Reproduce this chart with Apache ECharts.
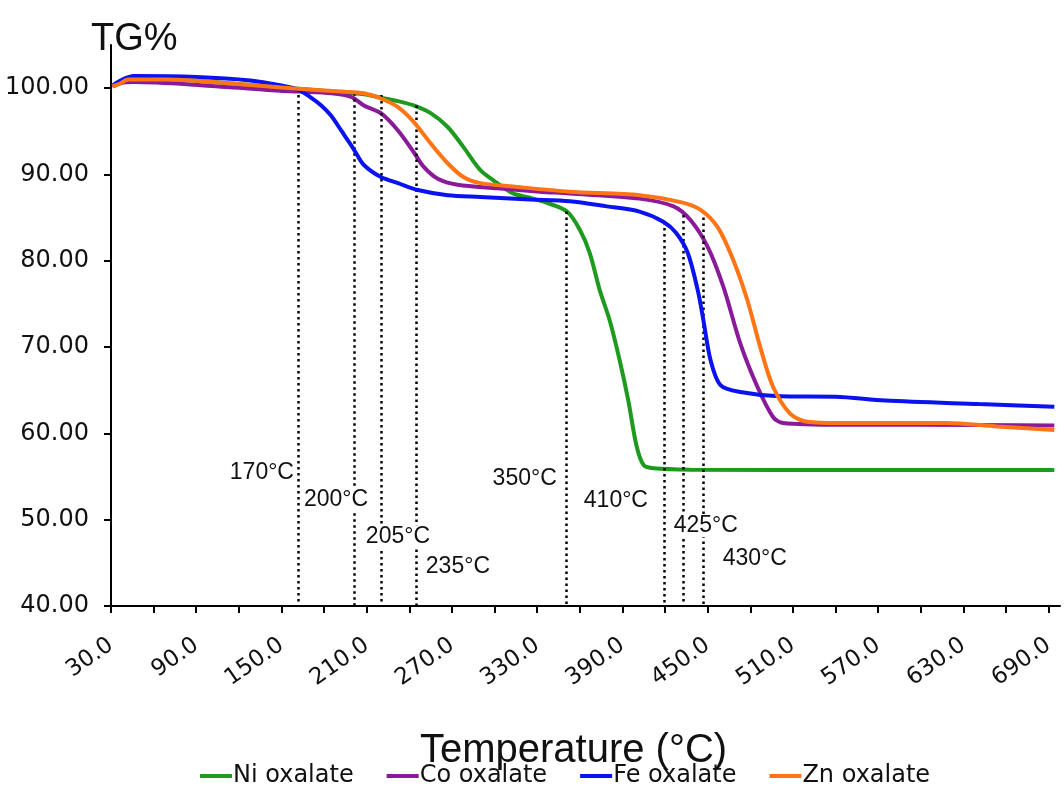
<!DOCTYPE html>
<html>
<head>
<meta charset="utf-8">
<script src="https://cdn.jsdelivr.net/npm/echarts@6/dist/echarts.min.js"></script>
<style>
html,body{margin:0;padding:0;background:#fff;}
#c{width:1064px;height:799px;}
</style>
</head>
<body>
<div id="c"></div>
<script>
// ---- data (temperature °C, TG %) ----
const seriesNames = ['Ni oxalate', 'Co oxalate', 'Fe oxalate', 'Zn oxalate'];
const seriesColors = ['#1e9a1e', '#8a1a9a', '#0a12f0', '#ff7414'];

const niData = [[31,100.2],[37,100.6],[42,101.0],[70,101.0],[117,100.5],[157,100.0],[185,99.6],[208,99.3],[220,98.9],[232,98.5],[243,98.0],[255,97.1],[267,95.5],[278,93.2],[290,90.5],[302,89.0],[313,87.8],[325,87.3],[337,86.7],[351,85.7],[360,83.6],[367,80.9],[374,76.6],[381,73.1],[388,68.5],[394,63.9],[400,58.5],[405,56.3],[412,55.95],[438,55.8],[560,55.75],[694,55.75]];
const coData = [[31,100.2],[37,100.6],[46,100.7],[93,100.35],[140,99.8],[162,99.6],[185,99.4],[199,99.0],[208,98.0],[220,97.1],[232,95.1],[243,92.6],[250,90.9],[260,89.5],[274,88.8],[302,88.4],[332,88.0],[353,87.8],[402,87.2],[426,86.3],[438,84.7],[450,81.6],[461,77.0],[473,70.4],[485,65.4],[496,61.9],[503,61.2],[543,61.0],[600,61.0],[694,60.9]];
const feData = [[31,100.3],[38,101.0],[46,101.4],[90,101.3],[128,100.9],[150,100.3],[162,99.8],[170,99.0],[178,98.0],[185,96.8],[192,95.1],[199,93.4],[202,92.6],[208,91.1],[220,89.7],[232,89.0],[246,88.2],[267,87.6],[290,87.4],[325,87.1],[353,86.9],[379,86.3],[402,85.7],[419,84.5],[428,83.2],[436,80.9],[443,76.6],[447,73.1],[452,68.5],[459,65.6],[473,64.8],[501,64.3],[540,64.25],[575,63.8],[641,63.4],[694,63.1]];
const znData = [[31,100.2],[37,100.6],[42,101.0],[70,101.0],[117,100.5],[157,100.0],[192,99.6],[208,99.4],[220,98.8],[232,97.8],[243,96.1],[255,93.6],[267,91.3],[278,89.7],[290,89.0],[313,88.6],[353,88.0],[402,87.6],[431,86.8],[445,85.9],[457,83.9],[468,80.1],[478,75.4],[487,70.0],[496,65.4],[508,62.3],[520,61.35],[543,61.2],[618,61.2],[654,60.8],[694,60.4]];

// dotted marker lines: temperature position and TG value where they start
const markerTemps = [162, 201, 220.5, 245, 350.3, 419.4, 433, 447];
const markerTops  = [99.9, 99.4, 99.2, 98.0, 85.7, 84.5, 85.3, 85.7];
const markerLabels = ['170°C', '200°C', '205°C', '235°C', '350°C', '410°C', '425°C', '430°C'];
// annotation text anchors (temperature, TG) and side of anchor
const labelAnchorT = [159.5, 165.1, 208.7, 250.9, 344.5, 362.1, 425.4, 459.9];
const labelAnchorY = [55.4, 52.3, 48.0, 44.55, 54.8, 52.2, 49.3, 45.5];
const labelSide    = ['left', 'right', 'right', 'right', 'left', 'right', 'right', 'right'];

const xTicks = [];
for (let v = 30; v <= 690; v += 30) xTicks.push(v);
const xLabels = [];
for (let v = 30; v <= 690; v += 60) xLabels.push(v);
const yTicks = [40, 50, 60, 70, 80, 90, 100];

// ---- chart ----
const chart = echarts.init(document.getElementById('c'), null, {renderer: 'canvas'});
const allData = [niData, coData, feData, znData];

const lineSeries = seriesNames.map((name, i) => ({
  name: name,
  type: 'line',
  data: allData[i],
  showSymbol: false,
  smooth: 0.3,
  lineStyle: {width: 4, color: seriesColors[i]},
  itemStyle: {color: seriesColors[i]},
  z: 3 + i
}));

const markerSeries = {
  name: 'markers',
  type: 'line',
  data: [],
  silent: true,
  z: 2,
  markLine: {
    silent: true,
    symbol: ['none', 'none'],
    label: {show: false},
    lineStyle: {type: [2.5, 3.5], color: '#000', width: 2.5},
    data: markerTemps.map((t, i) => [{coord: [t, markerTops[i]]}, {coord: [t, 40]}])
  }
};

const labelSeries = {
  name: 'labels',
  type: 'scatter',
  symbolSize: 0,
  silent: true,
  z: 10,
  itemStyle: {opacity: 1, color: '#fff'},
  data: markerLabels.map((txt, i) => ({
    value: [labelAnchorT[i], labelAnchorY[i]],
    name: txt,
    label: {position: labelSide[i]}
  })),
  label: {
    show: true,
    formatter: p => p.name,
    distance: 0,
    fontFamily: 'Liberation Sans, Arial, sans-serif',
    fontSize: 23,
    color: '#111',
    opacity: 1,
    backgroundColor: '#fff',
    padding: [0, 1]
  }
};

const option = {
  backgroundColor: '#fff',
  animation: false,
  title: {
    text: 'TG%',
    left: 86,
    top: 16,
    textStyle: {fontFamily: 'Liberation Sans, Arial, sans-serif', fontSize: 38, fontWeight: 'normal', color: '#111'}
  },
  grid: {left: 111, right: 4, top: 45, bottom: 193, containLabel: false},
  legend: {
    data: seriesNames,
    left: 195,
    top: 759,
    icon: 'rect',
    itemWidth: 32,
    itemHeight: 4,
    itemGap: 33,
    textStyle: {fontFamily: 'DejaVu Sans, sans-serif', fontSize: 24, color: '#111', padding: [0, 0, 0, -4]}
  },
  xAxis: {
    type: 'value',
    min: 30,
    max: 698,
    interval: 30,
    name: 'Temperature (°C)',
    nameLocation: 'middle',
    nameGap: 125,
    nameTextStyle: {fontFamily: 'Liberation Sans, Arial, sans-serif', fontSize: 40, color: '#111', padding: [0, 24, 0, 0], verticalAlign: 'top'},
    axisLine: {show: true, lineStyle: {color: '#000', width: 2}},
    axisTick: {show: true, customValues: xTicks, length: 7, lineStyle: {color: '#000', width: 2}},
    axisLabel: {
      customValues: xLabels,
      rotate: 35,
      margin: 37,
      formatter: v => Number(v).toFixed(1),
      fontFamily: 'DejaVu Sans, sans-serif',
      fontSize: 23,
      color: '#111'
    },
    splitLine: {show: false}
  },
  yAxis: {
    type: 'value',
    min: 40,
    max: 105,
    interval: 5,
    axisLine: {show: true, lineStyle: {color: '#000', width: 2}},
    axisTick: {show: true, customValues: yTicks, length: 7, lineStyle: {color: '#000', width: 2}},
    axisLabel: {
      customValues: yTicks,
      margin: 22,
      formatter: v => Number(v).toFixed(2),
      fontFamily: 'DejaVu Sans, sans-serif',
      fontSize: 24,
      color: '#111'
    },
    splitLine: {show: false}
  },
  series: [markerSeries].concat(lineSeries).concat([labelSeries])
};
chart.setOption(option);
</script>
</body>
</html>
